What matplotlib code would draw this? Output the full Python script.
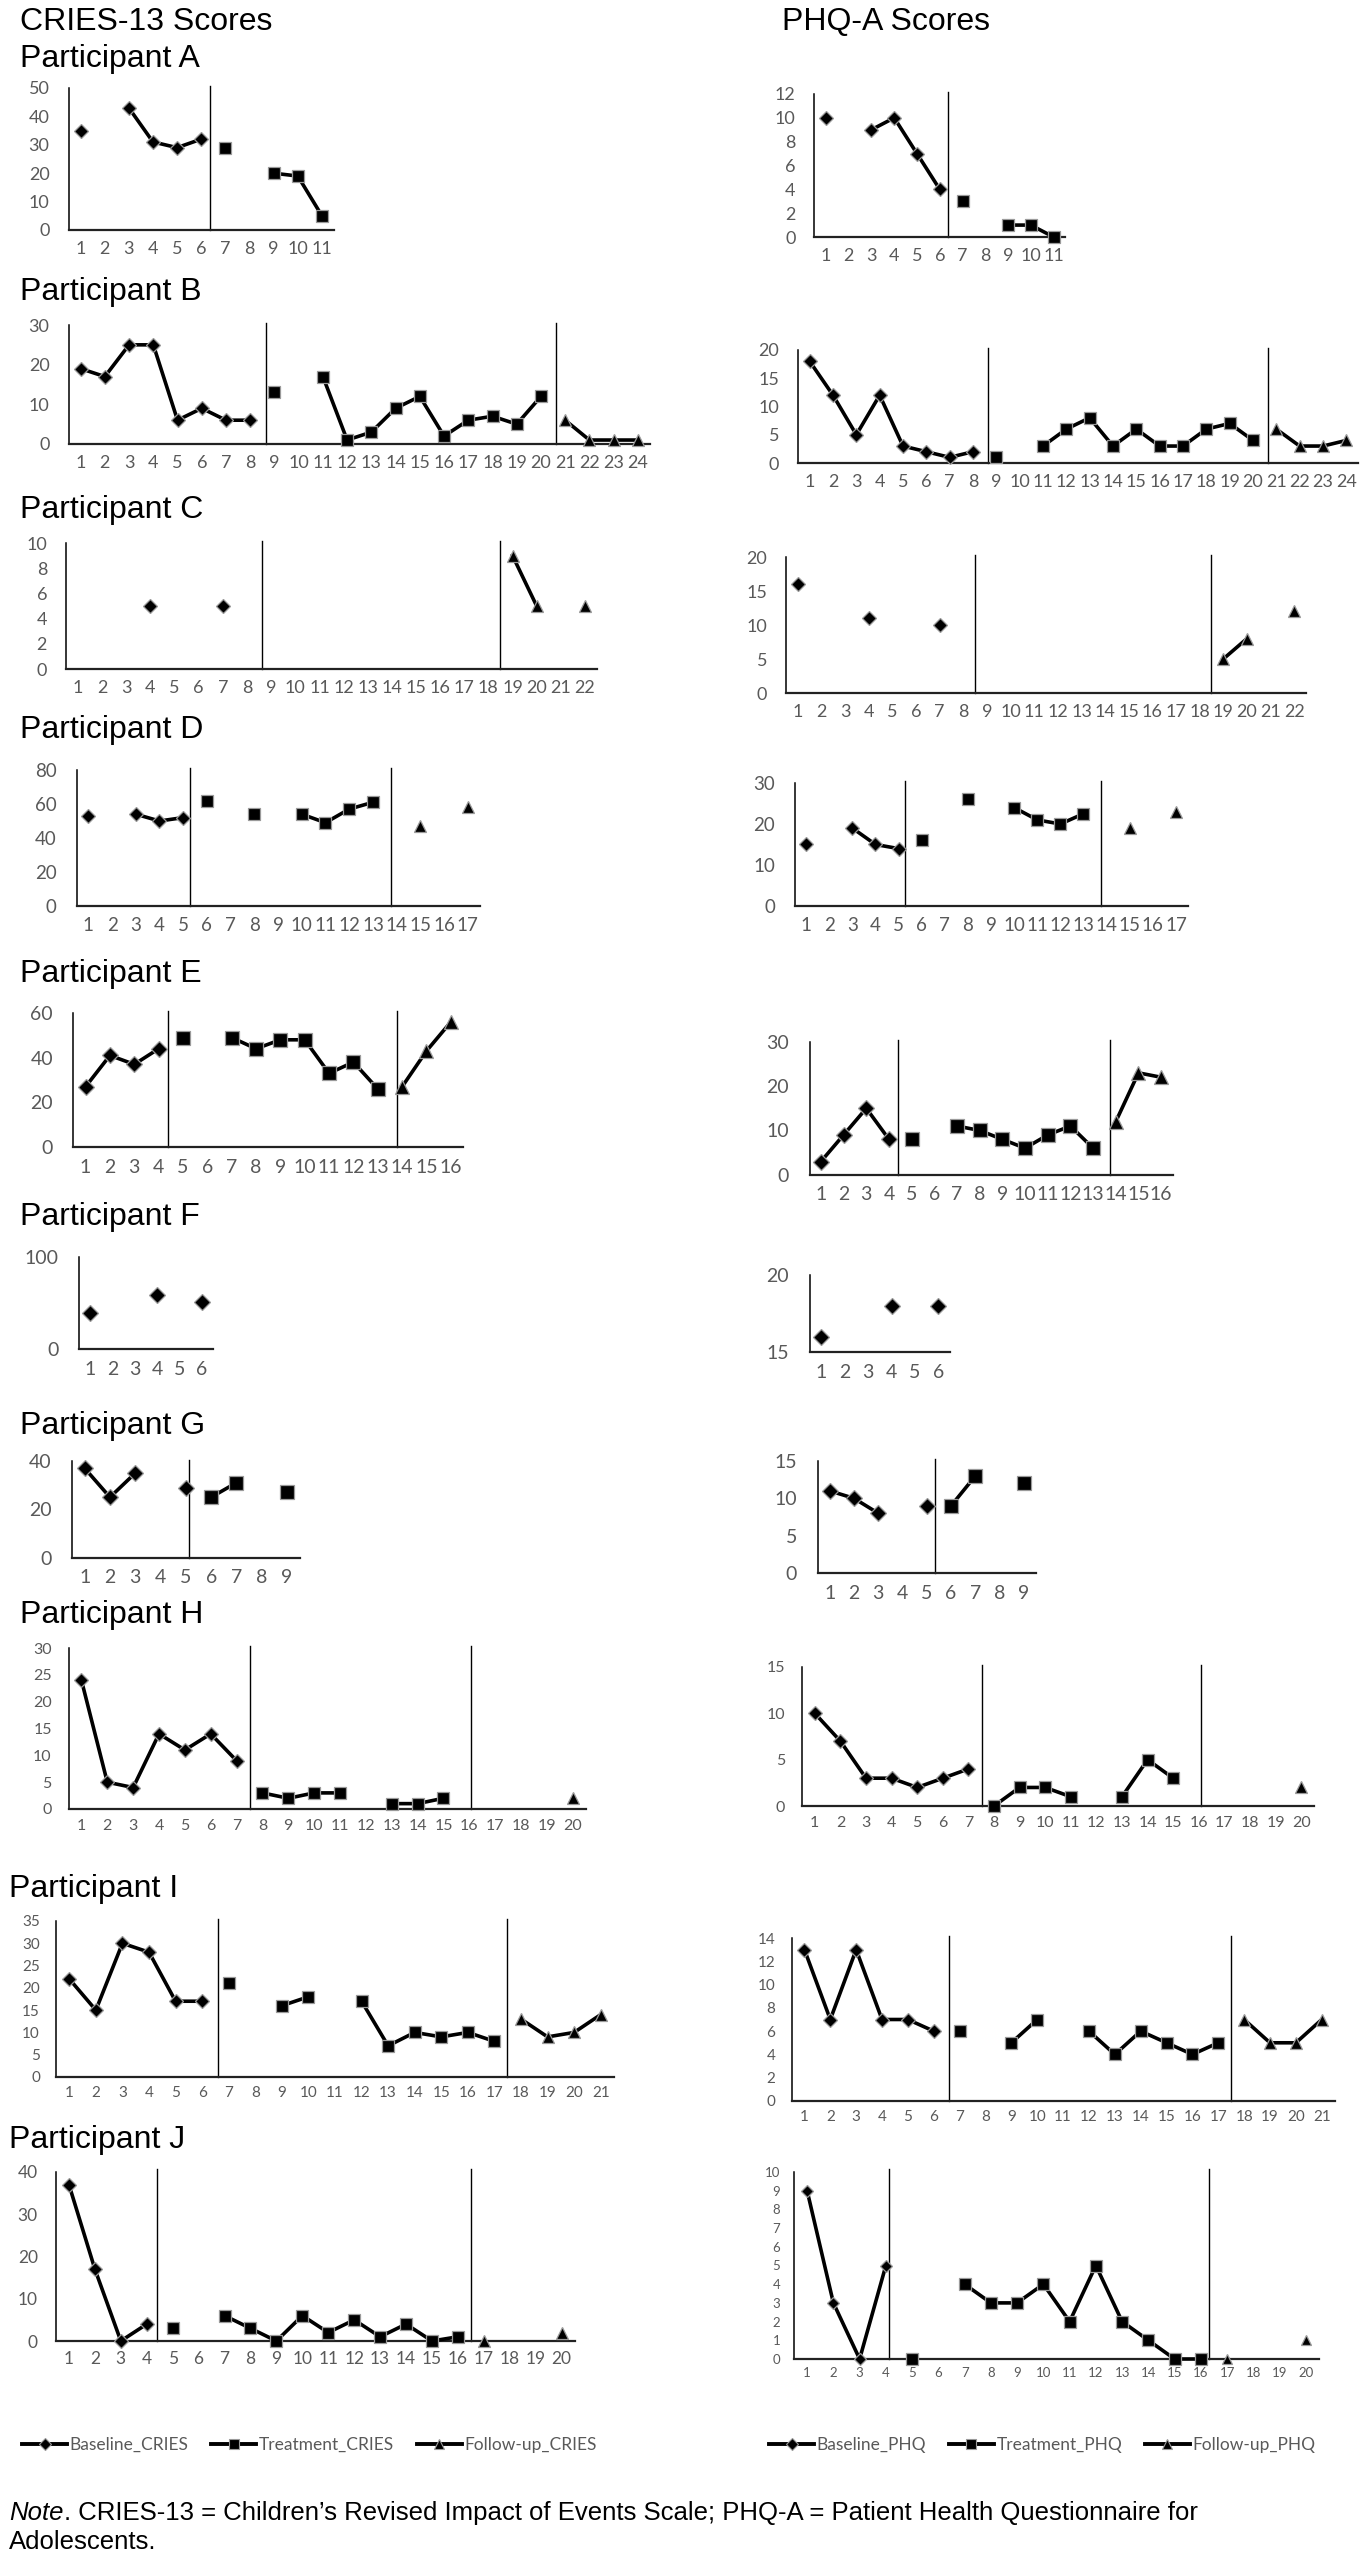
import matplotlib
matplotlib.use('Agg')
import matplotlib.pyplot as plt
from matplotlib.lines import Line2D
import numpy as np

# ---------------- data ----------------
# Each phase list starts right after the previous one (baseline starts at session 1).
A_n = 11
A_cries_base = [35, None, 43, 31, 29, 32]
A_cries_treat = [29, None, 20, 19, 5]
A_cries_fu = []
A_phq_base = [10, None, 9, 10, 7, 4]
A_phq_treat = [3, None, 1, 1, 0]
A_phq_fu = []
A_cries_phase = [6.36]
A_phq_phase = [6.36]

B_n = 24
B_cries_base = [19, 17, 25, 25, 6, 9, 6, 6]
B_cries_treat = [13, None, 17, 1, 3, 9, 12, 2, 6, 7, 5, 12]
B_cries_fu = [6, 1, 1, 1]
B_phq_base = [18, 12, 5, 12, 3, 2, 1, 2]
B_phq_treat = [1, None, 3, 6, 8, 3, 6, 3, 3, 6, 7, 4]
B_phq_fu = [6, 3, 3, 4]
B_cries_phase = [8.65, 20.62]
B_phq_phase = [8.64, 20.64]

C_n = 22
C_cries_base = [None, None, None, 5, None, None, 5, None]
C_cries_treat = [None] * 10
C_cries_fu = [9, 5, None, 5]
C_phq_base = [16, None, None, 11, None, None, 10, None]
C_phq_treat = [None] * 10
C_phq_fu = [5, 8, None, 12]
C_cries_phase = [8.63, 18.47]
C_phq_phase = [8.5, 18.48]

D_n = 17
D_cries_base = [53, None, 54, 50, 52]
D_cries_treat = [62, None, 54, None, 54, 49, 57, 61]
D_cries_fu = [None, 47, None, 58]
D_phq_base = [15, None, 19, 15, 14]
D_phq_treat = [16, None, 26, None, 24, 21, 20, 22.5]
D_phq_fu = [None, 19, None, 23]
D_cries_phase = [5.29, 13.77]
D_phq_phase = [5.28, 13.76]

E_n = 16
E_cries_base = [27, 41, 37, 44]
E_cries_treat = [49, None, 49, 44, 48, 48, 33, 38, 26]
E_cries_fu = [27, 43, 56]
E_phq_base = [3, 9, 15, 8]
E_phq_treat = [8, None, 11, 10, 8, 6, 9, 11, 6]
E_phq_fu = [12, 23, 22]
E_cries_phase = [4.39, 13.77]
E_phq_phase = [4.38, 13.75]

F_n = 6
F_cries_base = [39, None, None, 58, None, 51]
F_phq_base = [16, None, None, 18, None, 18]

G_n = 9
G_cries_base = [37, 25, 35, None, 29]
G_cries_treat = [25, 31, None, 27]
G_phq_base = [11, 10, 8, None, 9]
G_phq_treat = [9, 13, None, 12]
G_cries_phase = [5.12]
G_phq_phase = [5.33]

H_n = 20
H_cries_base = [24, 5, 4, 14, 11, 14, 9]
H_cries_treat = [3, 2, 3, 3, None, 1, 1, 2]
H_cries_fu = [None, None, None, None, 2]
H_phq_base = [10, 7, 3, 3, 2, 3, 4]
H_phq_treat = [0, 2, 2, 1, None, 1, 5, 3]
H_phq_fu = [None, None, None, None, 2]
H_cries_phase = [7.53, 16.07]
H_phq_phase = [7.52, 16.08]

I_n = 21
I_cries_base = [22, 15, 30, 28, 17, 17]
I_cries_treat = [21, None, 16, 18, None, 17, 7, 10, 9, 10, 8]
I_cries_fu = [13, 9, 10, 14]
I_phq_base = [13, 7, 13, 7, 7, 6]
I_phq_treat = [6, None, 5, 7, None, 6, 4, 6, 5, 4, 5]
I_phq_fu = [7, 5, 5, 7]
I_cries_phase = [6.6, 17.47]
I_phq_phase = [6.59, 17.49]

J_n = 20
J_cries_base = [37, 17, 0, 4]
J_cries_treat = [3, None, 6, 3, 0, 6, 2, 5, 1, 4, 0, 1]
J_cries_fu = [0, None, None, 2]
J_phq_base = [9, 3, 0, 5]
J_phq_treat = [0, None, 4, 3, 3, 4, 2, 5, 2, 1, 0, 0]
J_phq_fu = [0, None, None, 1]
J_cries_phase = [4.4, 16.49]
J_phq_phase = [4.12, 16.3]

legend_cries = ['Baseline_CRIES', 'Treatment_CRIES', 'Follow-up_CRIES']
legend_phq = ['Baseline_PHQ', 'Treatment_PHQ', 'Follow-up_PHQ']

# ---------------- drawing ----------------
W, H = 1370, 2560
fig = plt.figure(figsize=(W / 100, H / 100), dpi=100)

TICK_COLOR = '#595959'
TICK_FONT = ['Lato', 'DejaVu Sans']
TITLE_FONT = ['Liberation Sans', 'DejaVu Sans']
MEC = '#9a9a9a'


def arr(v):
    return np.array([np.nan if x is None else x for x in v], dtype=float)


def add_panel(box, n, base, treat, fu, ymax, ystep, phases, ymin=0, fs=13, ms=9.3):
    left, right, top, bottom = box
    ax = fig.add_axes([left / W, 1 - bottom / H, (right - left) / W, (bottom - top) / H])
    nb, nt, nf = len(base), len(treat), len(fu)
    xb = np.arange(1, nb + 1)
    xt = np.arange(nb + 1, nb + nt + 1)
    xf = np.arange(nb + nt + 1, nb + nt + nf + 1)
    for xs, ys, m, msz in ((xb, base, 'D', ms * 0.8), (xt, treat, 's', ms), (xf, fu, '^', ms * 0.95)):
        if len(ys):
            ax.plot(xs, arr(ys), color='black', lw=2.6, marker=m, ms=msz, mfc='black',
                    mec=MEC, mew=0.9, clip_on=False, zorder=3)
    for p in phases:
        ax.axvline(p, ymin=0, ymax=1.015, color='black', lw=1.0, clip_on=False, zorder=2)
    ax.set_xlim(0.5, n + 0.5)
    ax.set_ylim(ymin, ymax)
    ax.set_xticks(np.arange(1, n + 1))
    ax.set_xticklabels([str(i) for i in range(1, n + 1)])
    yt = np.arange(ymin, ymax + ystep / 2, ystep)
    ax.set_yticks(yt)
    ax.set_yticklabels([str(int(v)) for v in yt])
    for s in ('top', 'right'):
        ax.spines[s].set_visible(False)
    ax.spines['left'].set_linewidth(1.1)
    ax.spines['bottom'].set_linewidth(1.6)
    ax.spines['left'].set_color('black')
    ax.spines['bottom'].set_color('#222222')
    ax.tick_params(axis='both', length=0, labelcolor=TICK_COLOR, labelsize=fs)
    ax.tick_params(axis='y', pad=fs * 1.05)
    ax.tick_params(axis='x', pad=fs * 0.6)
    for lab in ax.get_xticklabels() + ax.get_yticklabels():
        lab.set_family(TICK_FONT)
    ax.patch.set_alpha(0)
    return ax


# CRIES column
add_panel((68.5, 334, 88, 230), A_n, A_cries_base, A_cries_treat, A_cries_fu, 50, 10, A_cries_phase)
add_panel((68.5, 650, 325, 444), B_n, B_cries_base, B_cries_treat, B_cries_fu, 30, 10, B_cries_phase)
add_panel((66, 597, 543, 669), C_n, C_cries_base, C_cries_treat, C_cries_fu, 10, 2, C_cries_phase)
add_panel((76.5, 479.6, 770, 906), D_n, D_cries_base, D_cries_treat, D_cries_fu, 80, 20, D_cries_phase, fs=13.5)
add_panel((73.4, 463, 1013, 1147), E_n, E_cries_base, E_cries_treat, E_cries_fu, 60, 20, E_cries_phase, fs=14, ms=10)
add_panel((78.7, 213, 1256.5, 1349), F_n, F_cries_base, [], [], 100, 100, [], fs=14, ms=10)
add_panel((72, 299.7, 1461, 1557.6), G_n, G_cries_base, G_cries_treat, [], 40, 20, G_cries_phase, fs=14, ms=10)
add_panel((68.5, 585.7, 1648, 1809), H_n, H_cries_base, H_cries_treat, H_cries_fu, 30, 5, H_cries_phase, fs=11.5)
add_panel((56, 614, 1921, 2077), I_n, I_cries_base, I_cries_treat, I_cries_fu, 35, 5, I_cries_phase, fs=11)
add_panel((56, 574.6, 2172, 2341), J_n, J_cries_base, J_cries_treat, J_cries_fu, 40, 10, J_cries_phase, fs=12.5)

# PHQ column
add_panel((814.5, 1065, 94, 237), A_n, A_phq_base, A_phq_treat, A_phq_fu, 12, 2, A_phq_phase)
add_panel((798, 1358, 350, 463), B_n, B_phq_base, B_phq_treat, B_phq_fu, 20, 5, B_phq_phase)
add_panel((786, 1306, 557, 693), C_n, C_phq_base, C_phq_treat, C_phq_fu, 20, 5, C_phq_phase)
add_panel((794.6, 1187.5, 783, 906), D_n, D_phq_base, D_phq_treat, D_phq_fu, 30, 10, D_phq_phase, fs=13.5)
add_panel((809.6, 1172.5, 1041.8, 1174.8), E_n, E_phq_base, E_phq_treat, E_phq_fu, 30, 10, E_phq_phase, fs=14, ms=10)
add_panel((809.6, 950, 1274.7, 1352), F_n, F_phq_base, [], [], 20, 5, [], ymin=15, fs=14, ms=10)
add_panel((817.6, 1036, 1461, 1573), G_n, G_phq_base, G_phq_treat, [], 15, 5, G_phq_phase, fs=14, ms=10)
add_panel((802, 1314, 1667, 1806), H_n, H_phq_base, H_phq_treat, H_phq_fu, 15, 5, H_phq_phase, fs=11.5)
add_panel((791.5, 1334.7, 1938, 2101), I_n, I_phq_base, I_phq_treat, I_phq_fu, 14, 2, I_phq_phase, fs=11)
add_panel((794, 1319, 2172, 2359), J_n, J_phq_base, J_phq_treat, J_phq_fu, 10, 1, J_phq_phase, fs=9.5, ms=8)

# titles
TS = 23
def title(x, y, s):
    fig.text(x / W, 1 - y / H, s, family=TITLE_FONT, fontsize=TS, ha='left', va='baseline', color='black')

title(20, 30, 'CRIES-13 Scores')
title(782, 30, 'PHQ-A Scores')
for lab, y, x in (('A', 67, 20), ('B', 300, 20), ('C', 518, 20), ('D', 738, 20), ('E', 982, 20),
                  ('F', 1225, 20), ('G', 1434, 20), ('H', 1623, 20), ('I', 1897, 9), ('J', 2148, 9)):
    title(x, y, 'Participant ' + lab)

# legends
def make_handles():
    return [Line2D([], [], color='black', lw=2.8, marker=m, ms=s, mfc='black', mec=MEC, mew=0.8)
            for m, s in (('D', 6), ('s', 7.5), ('^', 7.5))]

for labels, x0 in ((legend_cries, 22), (legend_phq, 769)):
    fig.legend(make_handles(), labels, loc='center left', bbox_to_anchor=(x0 / W, 1 - 2445 / H),
               ncol=3, frameon=False, handlelength=2.6, handletextpad=0.15, columnspacing=1.3,
               borderpad=0, borderaxespad=0, prop={'family': TICK_FONT, 'size': 12.5},
               labelcolor=TICK_COLOR)

# note
NS = 18.5
fig.canvas.draw()
renderer = fig.canvas.get_renderer()
t1 = fig.text(9 / W, 1 - 2520 / H, 'Note', family=TITLE_FONT, style='italic', fontsize=NS,
              ha='left', va='baseline')
bb = t1.get_window_extent(renderer)
fig.text(bb.x1 / W, 1 - 2520 / H,
         '. CRIES-13 = Children\u2019s Revised Impact of Events Scale; PHQ-A = Patient Health Questionnaire for',
         family=TITLE_FONT, fontsize=NS, ha='left', va='baseline')
fig.text(9 / W, 1 - 2549 / H, 'Adolescents.', family=TITLE_FONT, fontsize=NS, ha='left', va='baseline')

fig.savefig('out.png', dpi=100)
